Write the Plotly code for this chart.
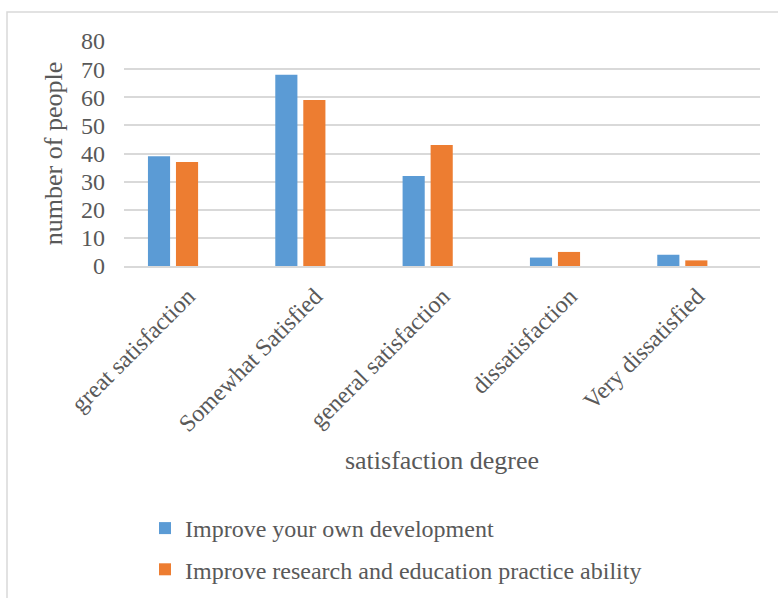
import plotly.graph_objects as go

categories = ["great satisfaction", "Somewhat Satisfied", "general satisfaction",
              "dissatisfaction", "Very dissatisfied"]
own_development = [39, 68, 32, 3, 4]
research_practice = [37, 59, 43, 5, 2]
series_names = ["Improve your own development",
                "Improve research and education practice ability"]
y_ticks = [0, 10, 20, 30, 40, 50, 60, 70, 80]

FONT = "Liberation Serif, Times New Roman, serif"
GRAY = "#595959"
GRID = "#d9d9d9"

fig = go.Figure()
fig.add_trace(go.Bar(x=categories, y=own_development, name=series_names[0],
                     marker=dict(color="#5B9BD5", line=dict(width=0)),
                     legendgroup="a"))
fig.add_trace(go.Bar(x=categories, y=research_practice, name=series_names[1],
                     marker=dict(color="#ED7D31", line=dict(width=0)),
                     legendgroup="b"))

W, H = 778, 598
L, R, T, B = 124, 18, 41, 332
pw, ph = W - L - R, H - T - B

fig.update_layout(
    width=W, height=H,
    margin=dict(l=L, r=R, t=T, b=B, autoexpand=False),
    paper_bgcolor="white", plot_bgcolor="white",
    font=dict(family=FONT, color=GRAY, size=22),
    barmode="group", bargap=0.56, bargroupgap=0.21,
    showlegend=True,
    legend=dict(orientation="v", x=(145 - L) / pw, xanchor="left",
                y=(266 - 506) / ph, yanchor="top",
                font=dict(family=FONT, size=24, color=GRAY),
                tracegroupgap=7, bgcolor="rgba(0,0,0,0)"),
    xaxis=dict(
        type="category",
        range=[-0.385, 4.61],
        tickangle=-45,
        tickfont=dict(family=FONT, size=24, color=GRAY),
        ticklabelshift=15,
        ticklabelstandoff=5,
        showgrid=False,
        showline=True, linecolor=GRID, linewidth=1.5,
        ticks="",
        title=dict(text="satisfaction degree",
                   font=dict(family=FONT, size=26, color=GRAY),
                   standoff=15),
    ),
    yaxis=dict(
        range=[0, 80],
        tickvals=y_ticks,
        tickfont=dict(family=FONT, size=24, color=GRAY),
        ticklabelstandoff=18,
        showgrid=True, gridcolor=GRID, gridwidth=1.5,
        zeroline=False,
        showline=False,
        ticks="",
        title=dict(text="number of people",
                   font=dict(family=FONT, size=26, color=GRAY),
                   standoff=10),
    ),
    shapes=[dict(type="rect", xref="paper", yref="paper",
                 x0=(7 - L) / pw, x1=(800 - L) / pw,
                 y0=(266 - 620) / ph, y1=1 + (T - 12) / ph,
                 line=dict(color=GRID, width=1.5), fillcolor="rgba(0,0,0,0)",
                 layer="below")],
)

fig.write_html("out.html")
